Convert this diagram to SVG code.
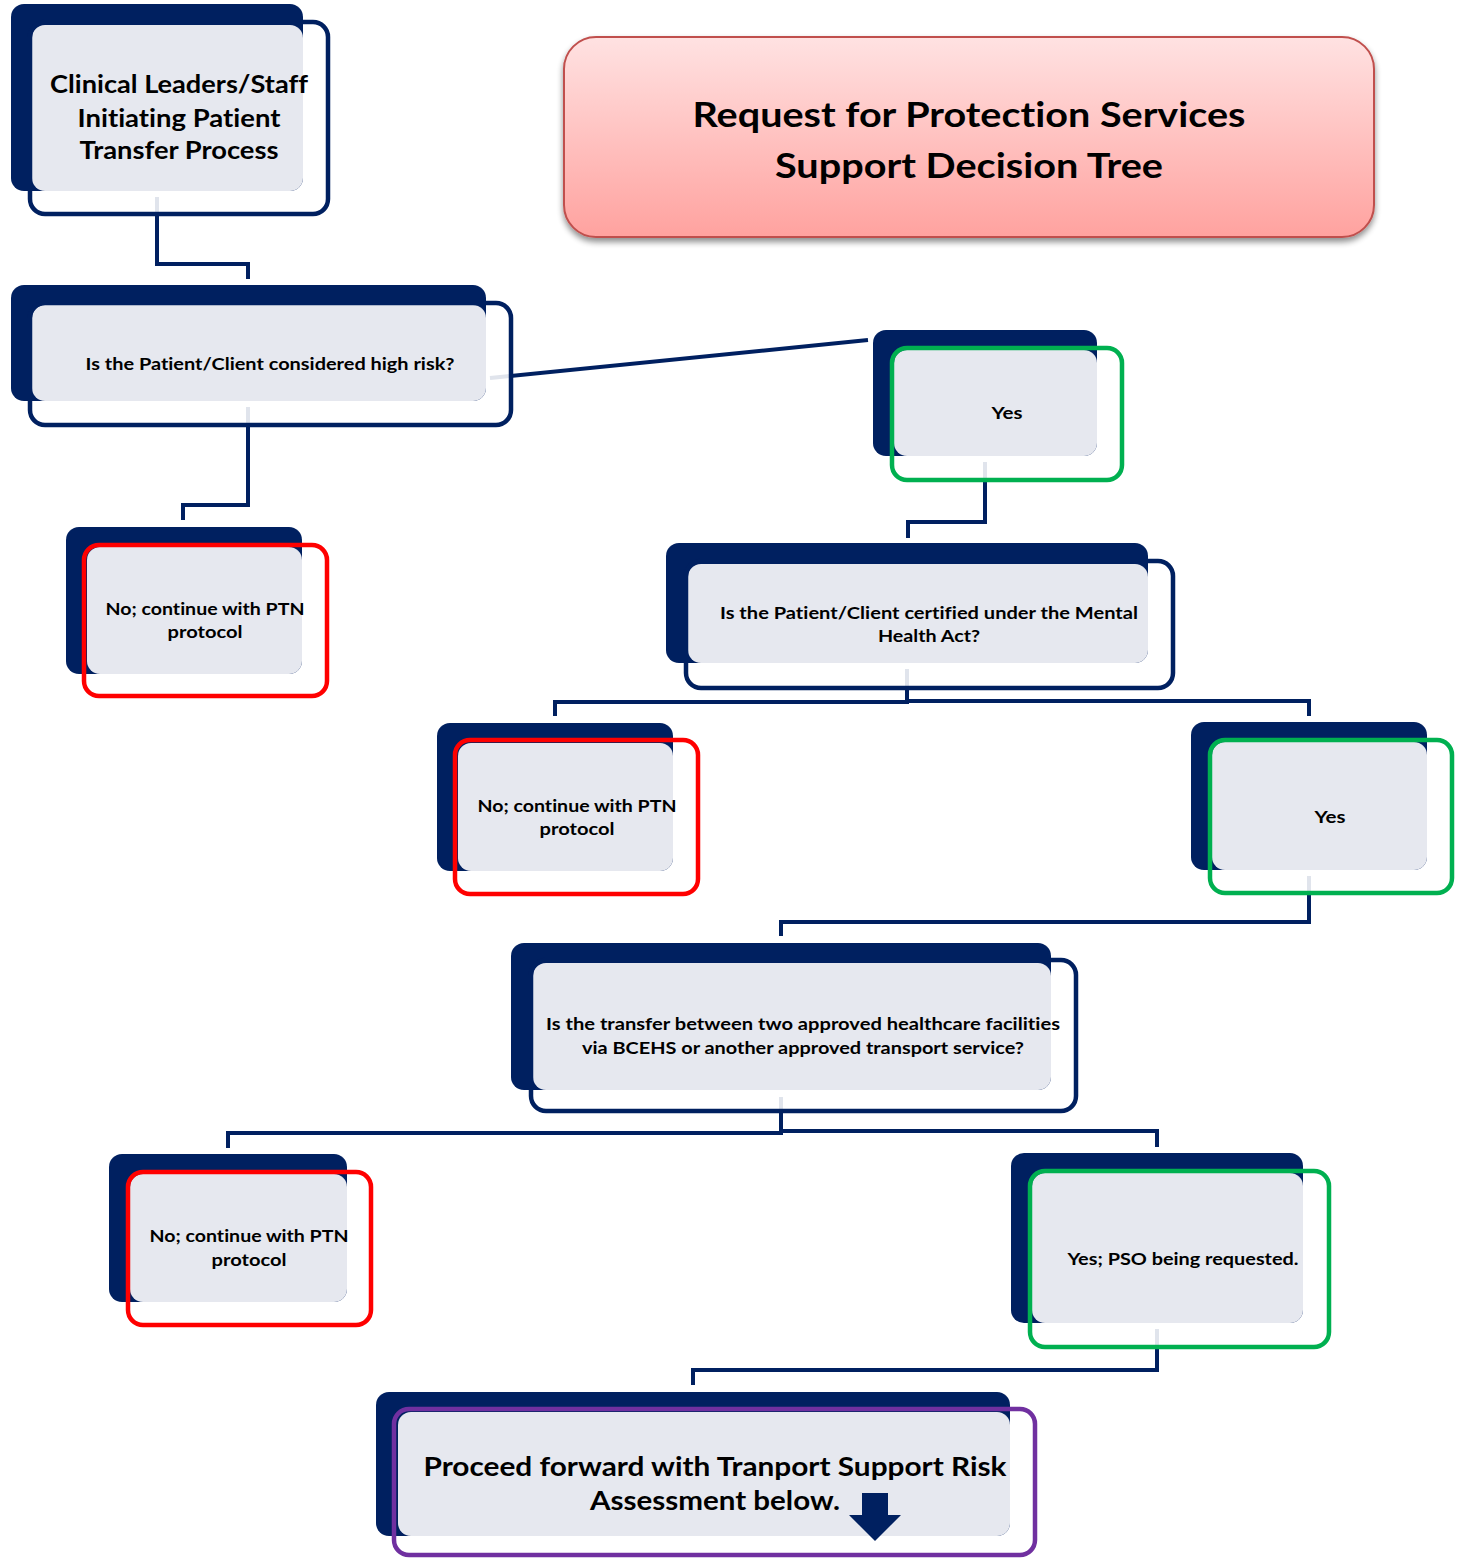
<svg xmlns="http://www.w3.org/2000/svg" width="1460" height="1560" viewBox="0 0 1460 1560">
<defs>
<linearGradient id="tg" x1="0" y1="0" x2="0" y2="1">
<stop offset="0" stop-color="#FFE2E2"/>
<stop offset="1" stop-color="#FFA29F"/>
</linearGradient>
<filter id="sh" x="-5%" y="-10%" width="110%" height="130%">
<feGaussianBlur in="SourceAlpha" stdDeviation="3"/>
<feOffset dx="0" dy="4" result="b"/>
<feComponentTransfer><feFuncA type="linear" slope="0.45"/></feComponentTransfer>
<feMerge><feMergeNode/><feMergeNode in="SourceGraphic"/></feMerge>
</filter>
</defs>
<style>
.bg{fill:#FFFFFF}
.veil{fill:#FFFFFF;fill-opacity:0.88}
.dk{fill:#002060}
.gr{fill:#E6E8EF}
.ol{fill:none;stroke-width:4.5}
.nv{stroke:#002060}
.gn{stroke:#00B050}
.rd{stroke:#FF0000}
.pp{stroke:#7030A0}
.cn{fill:none;stroke:#002060;stroke-width:4;stroke-linejoin:miter}
text{font-family:Lato,"Liberation Sans",sans-serif;font-weight:bold;fill:#000000;text-anchor:middle;font-variant-ligatures:none;font-feature-settings:"liga" 0,"clig" 0}
.s{font-size:17.5px}
.m{font-size:24.5px}
.l{font-size:27.5px}
.t{font-size:33.5px}
</style>
<rect class="bg" x="0" y="0" width="1460" height="1560"/>

<g id="connectors">
<path class="cn" d="M157,197 V264 H248 V279"/>
<path class="cn" d="M490,378 L868,340"/>
<path class="cn" d="M248,407 V505 H183 V520"/>
<path class="cn" d="M985,462 V522 H908 V538"/>
<path class="cn" d="M907,669 V702 H555 V716"/>
<path class="cn" d="M907,701 H1309 V716"/>
<path class="cn" d="M1309,876 V922 H781 V936"/>
<path class="cn" d="M781,1097 V1133 H228 V1148"/>
<path class="cn" d="M781,1131 H1157 V1147"/>
<path class="cn" d="M1157,1329 V1370 H693 V1385"/>
</g>

<g id="title">
<rect x="564" y="37" width="810" height="200" rx="32" fill="url(#tg)" stroke="#C0504D" stroke-width="2" filter="url(#sh)"/>
<text class="t" x="969" y="127" textLength="553" lengthAdjust="spacingAndGlyphs">Request for Protection Services</text>
<text class="t" x="969" y="178" textLength="388" lengthAdjust="spacingAndGlyphs">Support Decision Tree</text>
</g>

<g id="node-start">
<rect class="veil" x="30" y="22" width="298" height="192" rx="15"/>
<rect class="dk" x="11" y="4" width="292" height="187" rx="13"/>
<rect class="gr" x="32" y="25" width="271" height="166" rx="13"/>
<rect class="ol nv" x="30" y="22" width="298" height="192" rx="15"/>
<text class="m" x="179" y="93" textLength="258" lengthAdjust="spacingAndGlyphs">Clinical Leaders/Staff</text>
<text class="m" x="179" y="127" textLength="203" lengthAdjust="spacingAndGlyphs">Initiating Patient</text>
<text class="m" x="179" y="159" textLength="199" lengthAdjust="spacingAndGlyphs">Transfer Process</text>
</g>

<g id="node-highrisk">
<rect class="veil" x="30" y="303" width="481" height="122" rx="15"/>
<rect class="dk" x="11" y="285" width="475" height="116" rx="13"/>
<rect class="gr" x="32" y="305" width="454" height="96" rx="13"/>
<rect class="ol nv" x="30" y="303" width="481" height="122" rx="15"/>
<text class="s" x="270" y="370" textLength="369" lengthAdjust="spacingAndGlyphs">Is the Patient/Client considered high risk?</text>
</g>

<g id="node-yes1">
<rect class="veil" x="892" y="348" width="230" height="132" rx="15"/>
<rect class="dk" x="873" y="330" width="224" height="126" rx="13"/>
<rect class="gr" x="894" y="350" width="203" height="106" rx="13"/>
<rect class="ol gn" x="892" y="348" width="230" height="132" rx="15"/>
<text class="s" x="1007" y="419" textLength="31" lengthAdjust="spacingAndGlyphs">Yes</text>
</g>

<g id="node-no1">
<rect class="veil" x="84" y="545" width="243" height="151" rx="15"/>
<rect class="dk" x="66" y="527" width="236" height="147" rx="13"/>
<rect class="gr" x="87" y="547" width="215" height="127" rx="13"/>
<rect class="ol rd" x="84" y="545" width="243" height="151" rx="15"/>
<text class="s" x="205" y="615" textLength="199" lengthAdjust="spacingAndGlyphs">No; continue with PTN</text>
<text class="s" x="205" y="638" textLength="75" lengthAdjust="spacingAndGlyphs">protocol</text>
</g>

<g id="node-mha">
<rect class="veil" x="686" y="561" width="487" height="127" rx="15"/>
<rect class="dk" x="666" y="543" width="482" height="120" rx="13"/>
<rect class="gr" x="688" y="564" width="460" height="99" rx="13"/>
<rect class="ol nv" x="686" y="561" width="487" height="127" rx="15"/>
<text class="s" x="929" y="619" textLength="418" lengthAdjust="spacingAndGlyphs">Is the Patient/Client certified under the Mental</text>
<text class="s" x="929" y="642" textLength="102" lengthAdjust="spacingAndGlyphs">Health Act?</text>
</g>

<g id="node-no2">
<rect class="veil" x="455" y="740" width="243" height="154" rx="15"/>
<rect class="dk" x="437" y="723" width="236" height="148" rx="13"/>
<rect class="gr" x="458" y="743" width="215" height="128" rx="13"/>
<rect class="ol rd" x="455" y="740" width="243" height="154" rx="15"/>
<text class="s" x="577" y="812" textLength="199" lengthAdjust="spacingAndGlyphs">No; continue with PTN</text>
<text class="s" x="577" y="835" textLength="75" lengthAdjust="spacingAndGlyphs">protocol</text>
</g>

<g id="node-yes2">
<rect class="veil" x="1210" y="740" width="242" height="153" rx="15"/>
<rect class="dk" x="1191" y="722" width="236" height="148" rx="13"/>
<rect class="gr" x="1212" y="742" width="215" height="128" rx="13"/>
<rect class="ol gn" x="1210" y="740" width="242" height="153" rx="15"/>
<text class="s" x="1330" y="823" textLength="31" lengthAdjust="spacingAndGlyphs">Yes</text>
</g>

<g id="node-transfer">
<rect class="veil" x="531" y="960" width="545" height="151" rx="15"/>
<rect class="dk" x="511" y="943" width="540" height="147" rx="13"/>
<rect class="gr" x="533" y="963" width="518" height="127" rx="13"/>
<rect class="ol nv" x="531" y="960" width="545" height="151" rx="15"/>
<text class="s" x="803" y="1030" textLength="514" lengthAdjust="spacingAndGlyphs">Is the transfer between two approved healthcare facilities</text>
<text class="s" x="803" y="1054" textLength="442" lengthAdjust="spacingAndGlyphs">via BCEHS or another approved transport service?</text>
</g>

<g id="node-no3">
<rect class="veil" x="128" y="1172" width="243" height="153" rx="15"/>
<rect class="dk" x="109" y="1154" width="238" height="148" rx="13"/>
<rect class="gr" x="130" y="1174" width="217" height="128" rx="13"/>
<rect class="ol rd" x="128" y="1172" width="243" height="153" rx="15"/>
<text class="s" x="249" y="1242" textLength="199" lengthAdjust="spacingAndGlyphs">No; continue with PTN</text>
<text class="s" x="249" y="1266" textLength="75" lengthAdjust="spacingAndGlyphs">protocol</text>
</g>

<g id="node-pso">
<rect class="veil" x="1030" y="1171" width="299" height="176" rx="15"/>
<rect class="dk" x="1011" y="1153" width="292" height="170" rx="13"/>
<rect class="gr" x="1032" y="1173" width="271" height="150" rx="13"/>
<rect class="ol gn" x="1030" y="1171" width="299" height="176" rx="15"/>
<text class="s" x="1183" y="1265" textLength="231" lengthAdjust="spacingAndGlyphs">Yes; PSO being requested.</text>
</g>

<g id="node-proceed">
<rect class="veil" x="394" y="1409" width="641" height="146" rx="15"/>
<rect class="dk" x="376" y="1392" width="634" height="144" rx="13"/>
<rect class="gr" x="398" y="1412" width="612" height="124" rx="13"/>
<rect class="ol pp" x="394" y="1409" width="641" height="146" rx="15"/>
<text class="l" x="715" y="1476" textLength="583" lengthAdjust="spacingAndGlyphs">Proceed forward with Tranport Support Risk</text>
<text class="l" x="715" y="1510" textLength="250" lengthAdjust="spacingAndGlyphs">Assessment below.</text>
<polygon class="dk" points="862,1493 888,1493 888,1515 901,1515 875,1541 849,1515 862,1515"/>
</g>
</svg>
